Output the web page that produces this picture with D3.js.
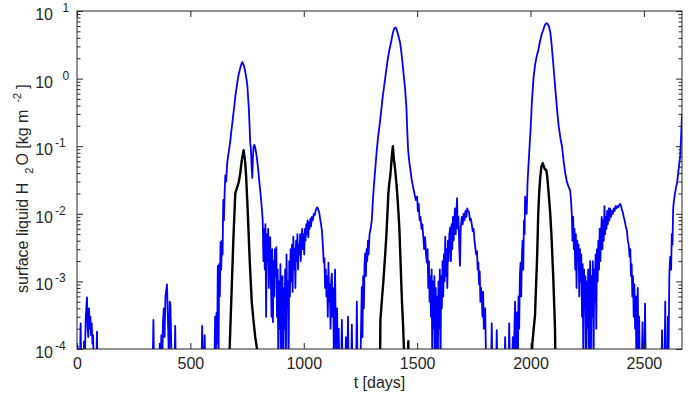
<!DOCTYPE html>
<html>
<head>
<meta charset="utf-8">
<script src="https://cdn.jsdelivr.net/npm/d3@7"></script>
<style>
  html, body { margin: 0; padding: 0; background: #fff; }
  svg text { font-family: "Liberation Sans", Arial, Helvetica, sans-serif; fill: #262626; }
</style>
</head>
<body>
<div id="chart"></div>
<script>
// [t (days), surface liquid H2O (kg m-2)]; 5e-5 = below the axis floor
const blueWater = [
  [0,1e-4],[3,1.1e-4],[6,5e-5],[13,5e-5],[16,2.4e-4],[19,5e-5],[28,5e-5],[31,1.3e-4],[34,5e-5],[38,2.5e-4],[41,4e-4],[44,5.8e-4],[47,2e-4],[50,1.5e-4],[53,4e-4],[56,2e-4],[59,3e-4],[62,1.6e-4],[65,2.4e-4],[68,1.2e-4],[71,1.6e-4],[74,5e-5],[85,5e-5],[88,1.8e-4],[91,5e-5],
  [333,5e-5],[337,2.7e-4],[340,5e-5],[362,5e-5],[365,1.2e-4],[368,5e-5],[372,1.6e-4],[376,5e-5],[379,2.5e-4],[383,4e-4],[386,1.5e-4],[390,6e-4],[394,7.5e-4],[397,9e-4],[400,3.5e-4],[403,1.5e-4],[406,5e-5],[409,5e-4],[412,4.5e-4],[415,1.5e-4],[418,5e-5],[430,5e-5],[433,2.2e-4],[436,5e-5],
  [549,5e-5],[552,2.2e-4],[555,5e-5],[560,5e-5],[563,1.6e-4],[566,5e-5],
  [606,5e-5],[609,3e-4],[612,5e-5],[615,3.4e-4],[618,1.2e-4],[621,1.7e-3],[624,5e-5],[627,1.8e-3],[630,6e-4],[633,3.8e-3],[636,1.5e-3],[639,4e-3],[642,2.5e-3],[645,1.6e-2],[648,8e-3],[651,2e-2],[654,3.7e-2],[658,3e-2],[662,5.5e-2],[667,7.4e-2],[671,9e-2],[676,0.12],[680,0.16],[685,0.22],[690,0.31],[694,0.4],[698,0.54],[704,0.75],[711,1.07],[718,1.35],[724,1.6],[729,1.76],[735,1.6],[742,1.26],[747,1.0],[751,0.81],[755,0.5],[758,0.35],[761,0.2],[764,0.11],[767,0.09],[770,0.05],[773,0.034],[776,0.07],[779,0.1],[782,0.105],[786,0.095],[790,0.08],[795,0.06],[799,0.045],[804,0.03],[808,0.022],[812,0.016],[816,0.011],[819,0.008],
  [822,2e-3],[825,6e-3],[828,1.5e-3],[831,7e-3],[834,3e-4],[837,5e-3],[840,2e-3],[843,6e-3],[846,8e-4],[849,4e-3],[852,4.5e-3],[855,1e-3],[858,3e-4],[861,3e-3],[864,2.5e-4],[867,2e-3],[870,6e-4],[873,3e-3],[876,1.2e-3],[879,3.2e-3],[882,3e-4],[885,1.5e-3],[888,5e-5],[891,1e-3],[894,2e-4],[897,1.8e-3],[900,5e-5],[903,6e-4],[906,1.2e-3],[909,5e-5],[912,8e-4],[915,2e-4],[918,1.5e-3],[921,5e-5],[924,2.5e-3],[927,4e-4],[930,1e-3],[933,5e-5],[936,2e-3],[939,6e-4],[942,3e-3],[945,1e-3],[948,3.5e-3],[951,7e-4],[954,4.6e-3],[957,1.5e-3],[960,3e-3],[963,8e-4],[966,4e-3],[969,2e-3],[972,5e-3],[975,1.5e-3],[978,3.5e-3],[981,2.5e-3],[984,5e-3],[987,2e-3],[990,4e-3],[993,6e-3],[996,3e-3],[999,5e-3],[1002,2.5e-3],[1005,6e-3],[1008,4e-3],[1011,7e-3],[1014,5e-3],[1017,8e-3],[1020,4.5e-3],[1023,7.5e-3],[1026,6e-3],[1029,8.5e-3],[1032,6.5e-3],[1036,9e-3],[1040,8e-3],[1044,1e-2],[1048,9.5e-3],[1052,1.1e-2],[1056,1.2e-2],[1060,1.25e-2],[1064,1.15e-2],[1068,1.05e-2],[1072,8.5e-3],[1076,7e-3],[1080,5.7e-3],[1084,3.5e-3],[1088,1.9e-3],[1091,2.2e-3],[1094,8e-4],[1097,1.5e-3],[1100,6e-4],[1103,1.2e-3],[1106,3e-4],[1109,1.9e-3],[1112,5e-4],[1115,9e-4],[1118,2e-4],[1121,1e-3],[1124,1.3e-3],[1127,3e-4],[1130,8e-4],[1133,5e-5],[1136,6e-4],[1138,1.5e-3],[1141,2e-4],[1144,5e-5],[1147,4e-4],[1150,5e-5],[1154,2e-4],[1157,5e-5],[1165,5e-5],[1168,2.7e-4],[1171,5e-5],[1183,5e-5],[1186,1.5e-4],[1189,5e-5],[1192,5e-5],[1195,3e-4],[1198,5e-5],[1209,5e-5],[1212,2.3e-4],[1215,5e-5],[1231,5e-5],[1234,5e-4],[1237,5e-5],[1250,5e-5],[1253,2.4e-4],[1256,8.3e-4],[1259,1.5e-4],[1262,1.2e-3],[1265,4e-4],[1268,1.8e-3],[1271,2.6e-3],[1274,1.2e-3],[1277,3e-3],[1280,2e-3],[1283,4e-3],[1286,2.5e-3],
  [1290,5e-3],[1295,6e-3],[1300,8e-3],[1305,0.016],[1310,0.028],[1315,0.045],[1321,0.08],[1328,0.14],[1334,0.2],[1340,0.3],[1347,0.5],[1355,0.8],[1362,1.2],[1370,1.9],[1378,2.7],[1386,3.6],[1393,4.8],[1400,5.6],[1406,5.7],[1412,5.0],[1418,4.2],[1425,3.4],[1432,2.2],[1439,1.3],[1447,0.7],[1453,0.35],[1457,0.15],[1460,0.09],[1465,0.06],[1470,0.045],[1476,0.032],[1482,0.025],[1488,0.02],[1494,0.016],
  [1500,0.018],[1503,0.011],[1507,0.014],[1511,0.008],[1515,0.009],[1519,0.006],[1523,0.007],[1527,0.0046],[1531,0.003],[1535,0.0045],[1539,0.0025],[1543,0.0019],[1546,0.003],[1549,0.0008],[1552,0.002],[1555,0.0005],[1558,0.0012],[1561,0.0003],[1564,0.0015],[1567,5e-5],[1570,0.001],[1573,0.0002],[1576,0.0012],[1579,5e-5],[1582,0.0008],[1585,5e-5],[1588,0.0006],[1591,5e-5],[1594,0.001],[1597,0.0002],[1600,0.0015],[1603,5e-5],[1606,0.0012],[1609,0.0004],[1612,0.002],[1615,0.0006],[1618,0.0025],[1621,0.001],[1624,0.0046],[1627,0.0012],[1630,0.003],[1633,0.0008],[1636,0.004],[1639,0.002],[1642,0.005],[1646,0.0063],[1649,0.002],[1652,0.007],[1655,0.003],[1658,0.009],[1661,0.004],[1664,0.008],[1667,0.012],[1670,0.005],[1673,0.01],[1676,0.017],[1679,0.006],[1682,0.009],[1686,0.003],[1689,0.0017],[1692,0.006],[1697,0.009],[1701,0.007],[1705,0.01],[1709,0.008],[1713,0.011],[1717,0.009],[1721,0.012],[1725,0.011],[1729,0.0105],[1733,0.008],[1737,0.0085],[1741,0.007],[1745,0.0055],[1749,0.006],[1753,0.004],[1756,0.0033],[1760,0.0025],[1764,0.0028],[1767,0.0015],[1770,0.0019],[1773,0.0009],[1776,0.0014],[1779,0.0005],[1782,0.0008],[1785,0.0006],[1788,0.0003],[1791,0.0007],[1794,0.0002],[1797,0.0004],[1800,0.0004],[1803,0.0001],[1806,5e-5],[1826,5e-5],[1829,2.4e-4],[1832,5e-5],[1848,5e-5],[1851,1.9e-4],[1854,5e-5],[1885,5e-5],[1888,1.5e-4],[1891,5e-5],[1903,5e-5],[1906,2.4e-4],[1909,5e-5],[1918,5e-5],[1922,1.5e-4],[1925,5e-5],[1929,2e-4],[1932,5e-4],[1935,1e-4],[1938,3e-4],[1941,3.5e-4],[1944,5e-5],[1947,6e-4],[1950,2e-4],[1953,1.2e-3],[1956,1.9e-3],[1959,6e-4],[1962,2.5e-3],[1965,4e-3],[1968,1.5e-3],[1971,8e-3],[1974,5e-3],[1976,0.018],[1980,0.011],[1983,0.01],[1987,0.03],[1990,0.045],[1995,0.09],
  [2000,0.17],[2006,0.45],[2013,1.0],[2020,1.6],[2028,2.2],[2034,2.6],[2042,3.6],[2050,4.6],[2056,5.2],[2063,6.2],[2070,6.6],[2076,6.4],[2082,5.8],[2087,4.9],[2093,3.2],[2100,1.7],[2108,0.8],[2117,0.35],[2124,0.2],[2132,0.13],[2139,0.098],[2146,0.06],[2153,0.04],[2160,0.03],[2168,0.025],[2175,0.022],[2179,0.015],[2182,0.01],
  [2185,0.004],[2188,0.009],[2191,0.003],[2194,0.006],[2197,0.0015],[2200,0.005],[2203,0.0008],[2206,0.004],[2209,0.002],[2212,0.0035],[2215,0.0006],[2218,0.003],[2221,0.001],[2224,0.0025],[2227,0.0003],[2230,0.0018],[2233,5e-5],[2236,0.0015],[2239,0.0004],[2242,0.0012],[2245,5e-5],[2248,0.001],[2251,0.0002],[2254,0.0015],[2257,5e-5],[2260,0.0008],[2263,0.002],[2266,5e-5],[2269,0.0012],[2272,0.0003],[2275,0.002],[2278,5e-5],[2281,0.0015],[2284,0.0005],[2287,0.0025],[2290,0.0002],[2293,0.003],[2296,0.001],[2299,0.004],[2302,0.0015],[2305,0.006],[2308,0.002],[2311,0.005],[2314,0.009],[2317,0.003],[2320,0.008],[2323,0.004],[2326,0.013],[2329,0.005],[2332,0.009],[2335,0.006],[2338,0.011],[2341,0.007],[2345,0.012],[2348,0.008],[2351,0.012],[2355,0.009],[2359,0.011],[2363,0.01],[2367,0.012],[2371,0.011],[2375,0.013],[2379,0.012],[2383,0.013],[2387,0.0125],[2391,0.0135],[2395,0.014],[2399,0.013],[2403,0.0115],[2407,0.0105],[2411,0.009],[2415,0.008],[2420,0.0065],[2425,0.0057],[2429,0.004],[2433,0.0035],[2437,0.0023],[2440,0.003],[2443,0.0012],[2446,0.0018],[2449,0.0006],[2452,0.0012],[2455,0.0003],[2458,0.0009],[2461,0.0002],[2464,0.0006],[2467,5e-5],[2470,0.0004],[2473,0.0008],[2476,5e-5],[2479,0.0003],[2482,5e-5],[2490,5e-5],[2494,2.5e-4],[2497,5e-5],[2502,5e-5],[2505,4.7e-4],[2508,5e-5],
  [2577,5e-5],[2580,1.9e-4],[2583,5e-5],[2591,5e-5],[2594,5e-4],[2597,5e-5],[2603,5e-5],[2606,3e-4],[2609,1e-4],[2612,1.2e-3],[2616,2.3e-3],[2620,1.5e-3],[2623,5e-3],[2626,3.5e-3],[2629,0.012],[2633,0.016],[2637,0.02],[2642,0.025],[2646,0.028],[2651,0.04],[2656,0.055],[2660,0.07],[2664,0.14],[2668,0.3]
]

const blackWater = [
  [672,5e-5],[673,1e-4],[678,3e-4],[683,9.5e-4],[690,4.6e-3],[698,0.02],[705,0.024],[713,0.029],[720,0.04],[727,0.063],[735,0.087],[742,0.056],[746,0.035],[752,0.0126],[757,5e-3],[761,2.3e-3],[766,1e-3],[771,4.8e-4],[779,2.5e-4],[786,1.5e-4],[794,1e-4],[796,5e-5],
  [1336,5e-5],[1338,2.7e-4],[1344,5e-4],[1351,1e-3],[1358,2.2e-3],[1364,4.6e-3],[1369,0.01],[1373,0.02],[1378,0.03],[1381,0.035],[1385,0.05],[1389,0.075],[1393,0.1],[1397,0.065],[1400,0.055],[1403,0.045],[1408,0.03],[1413,0.018],[1418,0.01],[1422,5.7e-3],[1428,1.5e-3],[1433,5e-4],[1437,2.7e-4],[1442,1e-4],[1444,5e-5],[1459,5e-5],[1461,1.3e-4],[1463,5e-5],
  [2003,5e-5],[2008,1.2e-4],[2014,2e-4],[2020,3.2e-4],[2024,8e-4],[2028,1.8e-3],[2031,4e-3],[2034,0.01],[2038,0.02],[2043,0.035],[2048,0.05],[2054,0.056],[2059,0.05],[2064,0.045],[2069,0.045],[2074,0.035],[2079,0.022],[2083,0.015],[2087,0.01],[2092,5e-3],[2096,2.5e-3],[2100,1.2e-3],[2105,4e-4],[2108,2e-4],[2110,5e-5]
]

const xTicks = [0, 500, 1000, 1500, 2000, 2500]
const yDecades = [1e-4, 1e-3, 1e-2, 1e-1, 1, 10]
const yExponents = ["-4", "-3", "-2", "-1", "0", "1"]
const xMax = 2668

const width = 692, height = 395
const margin = { top: 11, right: 10, bottom: 46, left: 77 }
const innerW = width - margin.left - margin.right
const innerH = height - margin.top - margin.bottom
const axisColor = "#262626"

const svg = d3.select("#chart").append("svg")
  .attr("width", width)
  .attr("height", height)

const x = d3.scaleLinear().domain([0, xMax]).range([margin.left, margin.left + innerW])
const y = d3.scaleLog().domain([1e-4, 10]).range([margin.top + innerH, margin.top])

// minor ticks 2..9 of each decade
const yMinor = []
yDecades.slice(0, -1).forEach(d => { for (let k = 2; k <= 9; k++) yMinor.push(d * k) })

svg.append("clipPath").attr("id", "plot-clip")
  .append("rect")
  .attr("x", margin.left).attr("y", margin.top)
  .attr("width", innerW).attr("height", innerH)

const line = d3.line().x(d => x(d[0])).y(d => y(d[1]))

const plot = svg.append("g").attr("clip-path", "url(#plot-clip)")

plot.append("path")
  .datum(blueWater)
  .attr("fill", "none")
  .attr("stroke", "#0000ff")
  .attr("stroke-width", 1.8)
  .attr("stroke-linejoin", "round")
  .attr("d", line)

plot.append("path")
  .datum(blackWater)
  .attr("fill", "none")
  .attr("stroke", "#000")
  .attr("stroke-width", 2.4)
  .attr("stroke-linejoin", "round")
  .attr("d", line)

// axes (inward ticks, all four sides)
function styleAxis(g) {
  g.select(".domain").remove()
  g.selectAll(".tick line").attr("stroke", axisColor)
}

svg.append("g")
  .attr("transform", `translate(0,${margin.top + innerH})`)
  .call(d3.axisBottom(x).tickValues(xTicks).tickSizeInner(-6).tickSizeOuter(0).tickPadding(9).tickFormat(d3.format("d")))
  .call(styleAxis)
  .call(g => g.selectAll(".tick text").attr("font-size", 16).attr("fill", axisColor)
    .style("font-family", '"Liberation Sans", Arial, sans-serif'))

svg.append("g")
  .attr("transform", `translate(0,${margin.top})`)
  .call(d3.axisTop(x).tickValues(xTicks).tickSizeInner(-6).tickSizeOuter(0).tickFormat(""))
  .call(styleAxis)

svg.append("g")
  .attr("transform", `translate(${margin.left},0)`)
  .call(d3.axisLeft(y).tickValues(yDecades).tickSizeInner(-6).tickSizeOuter(0).tickFormat(""))
  .call(styleAxis)

svg.append("g")
  .attr("transform", `translate(${margin.left},0)`)
  .call(d3.axisLeft(y).tickValues(yMinor).tickSizeInner(-3.5).tickSizeOuter(0).tickFormat(""))
  .call(styleAxis)

svg.append("g")
  .attr("transform", `translate(${margin.left + innerW},0)`)
  .call(d3.axisRight(y).tickValues(yDecades).tickSizeInner(-6).tickSizeOuter(0).tickFormat(""))
  .call(styleAxis)

svg.append("g")
  .attr("transform", `translate(${margin.left + innerW},0)`)
  .call(d3.axisRight(y).tickValues(yMinor).tickSizeInner(-3.5).tickSizeOuter(0).tickFormat(""))
  .call(styleAxis)

// box
svg.append("rect")
  .attr("x", margin.left).attr("y", margin.top)
  .attr("width", innerW).attr("height", innerH)
  .attr("fill", "none")
  .attr("stroke", axisColor)
  .attr("stroke-width", 1)

// y tick labels 10^n
const yLabels = svg.append("g")
yDecades.forEach((d, i) => {
  yLabels.append("text")
    .attr("x", margin.left - 24)
    .attr("y", y(d) + 9)
    .attr("text-anchor", "end")
    .attr("font-size", 16)
    .text("10")
  yLabels.append("text")
    .attr("x", yExponents[i].startsWith("-") ? margin.left - 22 : margin.left - 14.5)
    .attr("y", y(d) + 1)
    .attr("font-size", 12)
    .text(yExponents[i])
})

// axis titles
svg.append("text")
  .attr("x", margin.left + innerW / 2)
  .attr("y", 388)
  .attr("text-anchor", "middle")
  .attr("font-size", 16)
  .text("t [days]")

const yTitle = svg.append("text")
  .attr("transform", "translate(28,293) rotate(-90)")
  .attr("font-size", 16)
yTitle.append("tspan").text("surface liquid H")
yTitle.append("tspan").attr("dx", 9).attr("dy", 5).attr("font-size", 11).text("2")
yTitle.append("tspan").attr("dx", 2).attr("dy", -5).text("O [kg m")
yTitle.append("tspan").attr("dx", 7).attr("dy", -7).attr("font-size", 11).text("-2")
yTitle.append("tspan").attr("dx", 4).attr("dy", 7).text("]")
</script>
</body>
</html>
